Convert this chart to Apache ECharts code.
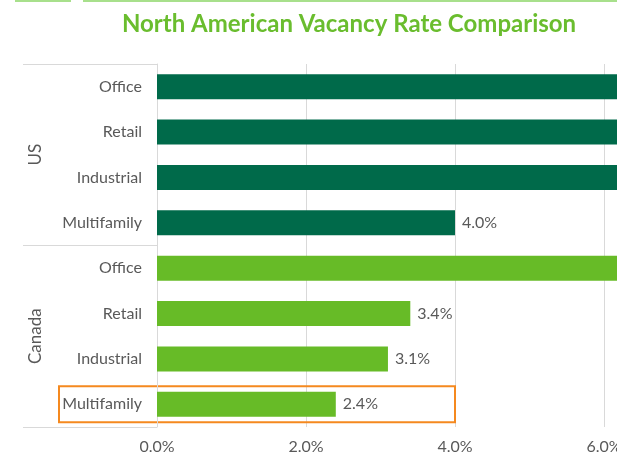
<!DOCTYPE html>
<html>
<head>
<meta charset="utf-8">
<script src="https://cdn.jsdelivr.net/npm/echarts@6/dist/echarts.min.js"></script>
<style>
  html, body { margin: 0; padding: 0; background: #fff; overflow: hidden; }
  #chart { width: 1800px; height: 464px; }
</style>
</head>
<body>
<div id="chart"></div>
<script>
// 数据
const groups = ['US', 'Canada']
const categories = ['Office', 'Retail', 'Industrial', 'Multifamily']
const usValues = [18.0, 10.0, 6.5, 4.0]
const canadaValues = [17.5, 3.4, 3.1, 2.4]
const xTicks = [0, 2, 4, 6, 8, 10, 12, 14, 16, 18, 20]

const darkGreen = '#006a4a'
const lightGreen = '#67bb27'
const textGray = '#595959'
const fontFamily = 'Lato, "Noto Sans", sans-serif'

const chart = echarts.init(document.getElementById('chart'))

const yLabels = categories.concat(categories)
const barData = usValues.map(v => ({ value: v, itemStyle: { color: darkGreen } }))
  .concat(canadaValues.map(v => ({ value: v, itemStyle: { color: lightGreen } })))

const options = {
  animation: false,
  title: {
    text: 'North American Vacancy Rate Comparison',
    left: 344,
    textAlign: 'center',
    top: 7,
    textStyle: { color: '#6abd2e', fontSize: 24, fontWeight: 'bold', fontFamily }
  },
  grid: {
    left: 157,
    top: 64,
    height: 363,
    width: 1490
  },
  xAxis: {
    type: 'value',
    min: xTicks[0],
    max: xTicks[xTicks.length - 1],
    interval: 2,
    axisLine: { show: false },
    axisTick: { show: false },
    splitLine: { lineStyle: { color: '#d9d9d9', width: 1 } },
    axisLabel: {
      margin: 12,
      color: textGray,
      fontSize: 16,
      fontFamily,
      formatter: v => v.toFixed(1) + '%'
    }
  },
  yAxis: [
    {
      type: 'category',
      inverse: true,
      data: yLabels,
      axisLine: { lineStyle: { color: '#d9d9d9' } },
      axisTick: { show: false },
      axisLabel: { margin: 15, color: textGray, fontSize: 16, fontFamily }
    },
    {
      type: 'category',
      inverse: true,
      position: 'left',
      data: groups,
      axisLine: { show: false },
      axisTick: { show: true, length: 134, lineStyle: { color: '#d9d9d9' } },
      axisLabel: { margin: 113, rotate: 90, color: textGray, fontSize: 17, fontFamily }
    }
  ],
  series: [{
    type: 'bar',
    yAxisIndex: 0,
    data: barData,
    barWidth: 25,
    label: {
      show: true,
      position: 'right',
      distance: 7,
      color: textGray,
      fontSize: 16,
      fontFamily,
      formatter: p => p.value.toFixed(1) + '%'
    }
  }]
}

chart.setOption(options)

// 顶部装饰线 + 高亮框
const lastIdx = yLabels.length - 1
const rowY = chart.convertToPixel({ yAxisIndex: 0 }, lastIdx)
const boxRight = chart.convertToPixel({ xAxisIndex: 0 }, 4)
chart.setOption({
  graphic: [
    { type: 'rect', shape: { x: 15, y: 0, width: 56, height: 2 }, style: { fill: '#a8e08c' } },
    { type: 'rect', shape: { x: 83, y: 0, width: 1800, height: 2 }, style: { fill: '#a8e08c' } },
    {
      type: 'rect',
      shape: { x: 59, y: rowY - 18, width: boxRight - 59, height: 36 },
      style: { fill: 'none', stroke: '#f5891f', lineWidth: 2 }
    }
  ]
})

window.addEventListener('resize', () => {
  chart?.resize()
})
</script>
</body>
</html>
